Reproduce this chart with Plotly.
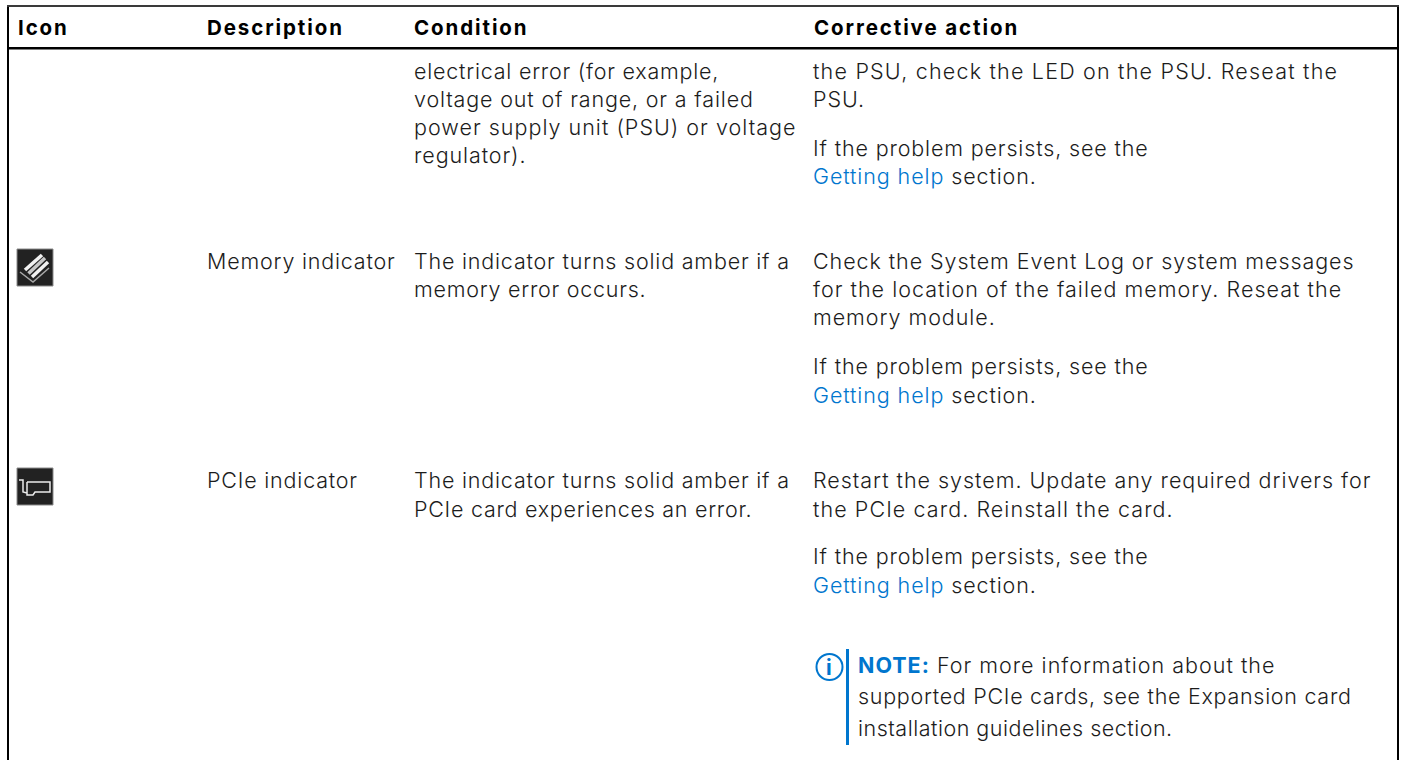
import plotly.graph_objects as go

# ---- content ----
headers = ["Icon", "Description", "Condition", "Corrective action"]
descriptions = ["Memory indicator", "PCIe indicator"]
LINK = '<span style="color:#0076CE">Getting help</span>'
condition_lines = [
    "electrical error (for example,",
    "voltage out of range, or a failed",
    "power supply unit (PSU) or voltage",
    "regulator).",
    "The indicator turns solid amber if a",
    "memory error occurs.",
    "The indicator turns solid amber if a",
    "PCIe card experiences an error.",
]
action_lines = [
    "the PSU, check the LED on the PSU. Reseat the",
    "PSU.",
    "If the problem persists, see the",
    LINK + " section.",
    "Check the System Event Log or system messages",
    "for the location of the failed memory. Reseat the",
    "memory module.",
    "If the problem persists, see the",
    LINK + " section.",
    "Restart the system. Update any required drivers for",
    "the PCIe card. Reinstall the card.",
    "If the problem persists, see the",
    LINK + " section.",
]
note_lines = [
    '<b><span style="color:#0076CE">NOTE:</span></b> For more information about the',
    "supported PCIe cards, see the Expansion card",
    "installation guidelines section.",
]

# ---- layout ----
W, H = 1402, 760
FONT = "Inter"
SIZE = 21.5
INK = "#1c1c1c"
BLUE = "#0076CE"
col_x = [16, 205, 412, 811]
header_x = [16, 205, 412, 812]
header_y = 27
desc_y = [261, 480]
cond_y = [71, 99, 127, 155, 261, 289, 480, 509]
act_y = [71, 99, 148, 176, 261, 289, 317, 366, 395, 480, 509, 556, 585]
note_x = 856
note_y = [665, 696, 728]
# per-line tracking, the reference face has wider capitals than Inter
cond_sp = [0.77, 0.84, 1.01, 0.9, 0.8, 0.75, 0.8, 0.73]
act_sp = [1.2, 0.9, 0.85, 0.89, 0.93, 1.02, 0.95, 0.85, 0.89, 0.97, 1.07, 0.85, 0.89]
note_sp = [1.0, 0.71, 0.5]


def txt(x, y, s, size=SIZE, color=INK, xa="left", sp=0.6, weight=300):
    return dict(x=x, y=y, xref="x", yref="y", text=f'<span style="letter-spacing:{sp}px">{s}</span>',
                showarrow=False, xanchor=xa, yanchor="middle", align="left",
                font=dict(family=FONT, size=size, color=color, weight=weight))


ann = [txt(x, header_y, f"<b>{h}</b>", size=20.5, color="#000000", sp=1.9, weight=400)
       for x, h in zip(header_x, headers)]
ann += [txt(col_x[1], y, d, sp=0.8) for y, d in zip(desc_y, descriptions)]
ann += [txt(col_x[2], y, s, sp=k) for y, s, k in zip(cond_y, condition_lines, cond_sp)]
ann += [txt(col_x[3], y, s, sp=k) for y, s, k in zip(act_y, action_lines, act_sp)]
ann += [txt(note_x, y, s, sp=k) for y, s, k in zip(note_y, note_lines, note_sp)]
ann.append(txt(829, 667, "<b>i</b>", size=21, color=BLUE, xa="center", sp=0, weight=400))


def rect(x0, y0, x1, y1, fill, line=None):
    return dict(type="rect", x0=x0, y0=y0, x1=x1, y1=y1, xref="x", yref="y", fillcolor=fill,
                line=dict(color=line or fill, width=1 if line else 0), layer="below")


def path(d, fill="rgba(0,0,0,0)", stroke="#e0e0e0", w=1.5):
    return dict(type="path", path=d, xref="x", yref="y", fillcolor=fill,
                line=dict(color=stroke, width=w), layer="above")


shapes = [
    rect(7, 5, 9, H, "#000000"),
    rect(1397, 5, 1399, H, "#000000"),
    rect(7, 5, 1399, 7, "#3a3a3a"),
    rect(7, 47, 1399, 49.5, "#000000"),
    # memory icon
    rect(17, 249, 53, 286, "#222222", "#8a8a8a"),
    path("M 20 272 L 33 282 L 49 268", stroke="#a8a8a8", w=1.5),
    path("M 25 270 L 42 255", stroke="#f2f2f2", w=3.5),
    path("M 28.5 273.5 L 45 258", stroke="#c8c8c8", w=3.5),
    path("M 32 277 L 48 262", stroke="#f2f2f2", w=3.5),
    # pcie icon
    rect(17, 468, 53, 505, "#222222", "#8a8a8a"),
    path("M 19 480 L 23 480 L 23 492 L 27 493 M 27 482 L 50 482 L 50 492 L 35 492 L 33 495 L 27 495 L 27 482",
         stroke="#ececec", w=1.5),
    # note marker
    dict(type="circle", x0=816.5, y0=654, x1=842.5, y1=680, xref="x", yref="y",
         line=dict(color=BLUE, width=2), fillcolor="rgba(0,0,0,0)"),
    rect(846, 649, 849, 745, BLUE),
]

fig = go.Figure()
fig.update_layout(
    width=W, height=H, margin=dict(l=0, r=0, t=0, b=0), paper_bgcolor="white", plot_bgcolor="white",
    showlegend=False, annotations=ann, shapes=shapes,
    xaxis=dict(range=[0, W], visible=False, fixedrange=True),
    yaxis=dict(range=[H, 0], visible=False, fixedrange=True),
)
fig.write_html("out.html", post_script="document.body.style.margin='0';",
               config={"displayModeBar": False})
